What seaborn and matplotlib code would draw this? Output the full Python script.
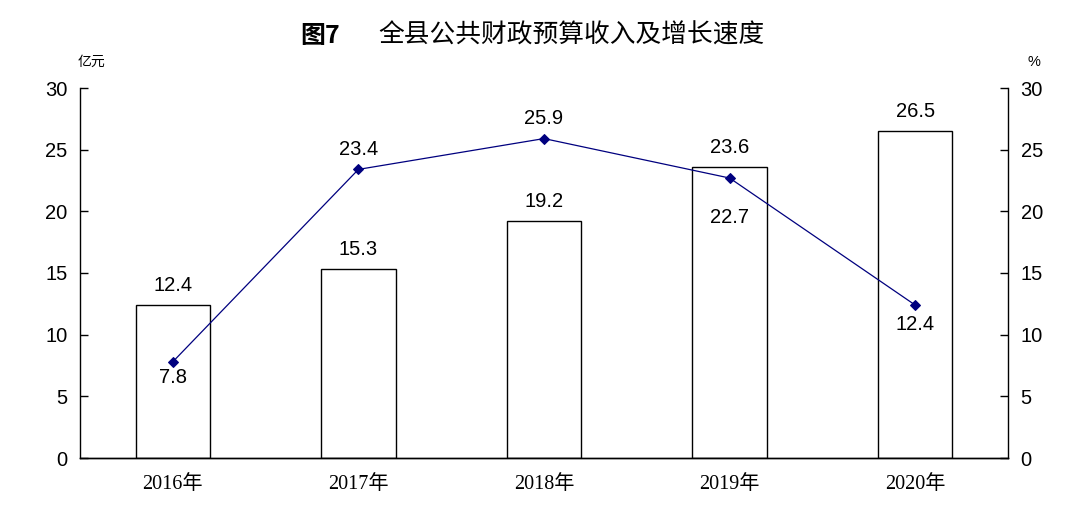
import matplotlib
matplotlib.use('Agg')
import matplotlib.pyplot as plt
import seaborn as sns
import pandas as pd

# data
years = ['2016年', '2017年', '2018年', '2019年', '2020年']
revenue = [12.4, 15.3, 19.2, 23.6, 26.5]      # 亿元, bars
growth = [7.8, 23.4, 25.9, 22.7, 12.4]        # %, line
growth_label_shift = [-1.3, 1.6, 1.6, -3.2, -1.6]   # label offset in axis units

sns.set_style('white')
plt.rcParams['font.family'] = ['Liberation Sans', 'Noto Sans CJK SC', 'DejaVu Sans']
plt.rcParams['text.color'] = 'black'
plt.rcParams['xtick.color'] = 'black'
plt.rcParams['ytick.color'] = 'black'

df = pd.DataFrame({'year': years, 'revenue': revenue, 'growth': growth})

fig = plt.figure(figsize=(10.78, 5.17), dpi=100)
ax = fig.add_axes([80 / 1078, 1 - 458 / 517, 928 / 1078, 370 / 517])

sns.barplot(data=df, x='year', y='revenue', ax=ax, width=0.4,
            color='white', edgecolor='black', linewidth=1.0, saturation=1)
ax.set_xlim(-0.5, 4.5)
ax.set_ylim(0, 30)
ax.set_yticks(range(0, 31, 5))
ax.set_xlabel('')
ax.set_ylabel('')
for i, v in enumerate(revenue):
    ax.text(i, v + 0.8, f'{v}', ha='center', va='bottom', fontsize=14.5)

ax2 = ax.twinx()
sns.lineplot(x=list(range(len(years))), y=growth, ax=ax2, color='#00007f',
             linewidth=0.9, marker='D', markersize=5, markeredgecolor='#00007f')
ax2.set_ylim(0, 30)
ax2.set_yticks(range(0, 31, 5))
for i, (v, d) in enumerate(zip(growth, growth_label_shift)):
    ax2.text(i, v + d, f'{v}', ha='center', va='center', fontsize=14.5)

for a in (ax, ax2):
    for s in a.spines.values():
        s.set_visible(False)
        s.set_color('black')
        s.set_linewidth(1.0)
    a.spines['bottom'].set_visible(True)
ax.spines['left'].set_visible(True)
ax2.spines['right'].set_visible(True)

ax.tick_params(axis='y', direction='in', length=6, width=1, labelsize=14.5, pad=9)
ax2.tick_params(axis='y', direction='in', length=6, width=1, labelsize=14.5, pad=9,
                right=True)
ax.tick_params(axis='x', length=0, pad=12)
for lbl in ax.get_xticklabels():
    lbl.set_family(['Liberation Serif', 'Noto Sans CJK SC'])
    lbl.set_fontsize(14.5)

fig.text(91 / 1078, 1 - 62 / 517, '亿元', ha='center', va='center', fontsize=10,
         family=['Noto Sans CJK SC'])
fig.text(1034 / 1078, 1 - 62 / 517, '%', ha='center', va='center', fontsize=10.5)

fig.text(300 / 1078, 1 - 36 / 517, '图7', ha='left', va='center', fontsize=18,
         fontweight='bold', family=['Noto Sans CJK SC'])
fig.text(378 / 1078, 1 - 36 / 517, '全县公共财政预算收入及增长速度', ha='left',
         va='center', fontsize=18.5, family=['Noto Sans CJK SC'])

fig.savefig('out.png', dpi=100)
